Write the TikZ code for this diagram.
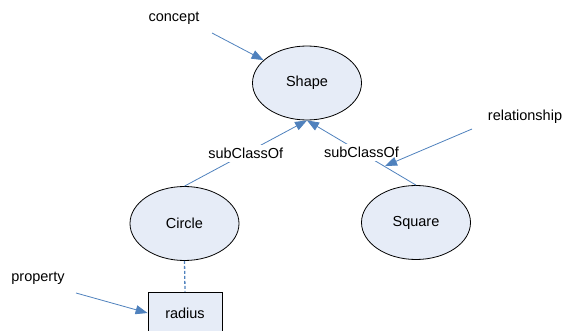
\documentclass[tikz,border=0pt]{standalone}
\usepackage{fontspec}
\setmainfont{Liberation Sans}
\usetikzlibrary{shapes.geometric,arrows.meta}
\definecolor{lblue}{HTML}{4F81BD}
\definecolor{efill}{HTML}{E6ECF7}
\tikzset{
  concept/.style={ellipse, draw=black, line width=0.8pt, fill=efill, minimum width=109pt, minimum height=74pt, inner sep=0pt},
  propbox/.style={rectangle, draw=black, line width=0.8pt, fill=efill, minimum width=74pt, minimum height=42pt, inner sep=0pt},
  conn/.style={draw=lblue, line width=0.8pt},
  tip/.style={-{Triangle[length=12pt,width=9pt]}},
  lab/.style={inner sep=0pt},
  edgelab/.style={fill=white, inner sep=3pt}
}
\begin{document}
\begin{tikzpicture}[x=1pt,y=-1pt,font=\fontsize{14.5}{17}\selectfont]
\useasboundingbox (0,0) rectangle (564,331);
\node[concept] (shape) at (307,83) {Shape};
\node[concept] (circle) at (184.5,223.5) {Circle};
\node[concept] (square) at (416,222.5) {Square};
\node[propbox] (radius) at (185,313) {radius};

\node[lab] (lconcept) at (174,18) {concept};
\node[lab] (lrel) at (525,117) {relationship};
\node[lab] (lprop) at (38,278) {property};

\coordinate (c1) at (212,33);
\coordinate (r1) at (472,129);
\coordinate (r2) at (385,166);
\coordinate (p1) at (76,293);

\draw[conn,tip] (circle.north) -- node[edgelab,text=black] (sc1) {subClassOf} (shape.south);
\draw[conn,tip] (square.north) -- node[edgelab,text=black] (sc2) {subClassOf} (shape.south);
\draw[conn,dashed,dash pattern=on 3pt off 2pt,line width=1.3pt] (circle.south) -- (radius.north);

\draw[conn,tip] (c1) -- (shape);
\draw[conn,tip] (r1) -- (r2);
\draw[conn,tip] (p1) -- (radius.west);
\end{tikzpicture}
\end{document}
